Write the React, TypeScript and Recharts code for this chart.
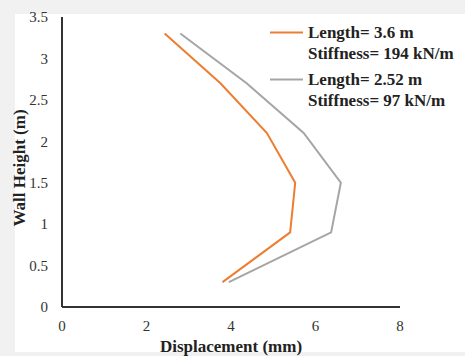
import React from 'react';
import { LineChart, Line, XAxis, YAxis, Legend } from 'recharts';

const heights = [0.3, 0.9, 1.5, 2.1, 2.7, 3.3];
const dispLong = [3.8, 5.4, 5.52, 4.85, 3.75, 2.43];
const dispShort = [3.95, 6.37, 6.6, 5.72, 4.37, 2.8];
const xTicks = [0, 2, 4, 6, 8];
const yTicks = [0, 0.5, 1, 1.5, 2, 2.5, 3, 3.5];
const seriesNames = ['Length= 3.6 m', 'Length= 2.52 m'];
const seriesSub = ['Stiffness= 194 kN/m', 'Stiffness= 97 kN/m'];

const data = heights.map((h, i) => ({ h, a: dispLong[i], b: dispShort[i] }));

const FONT = '"Liberation Serif", "Times New Roman", serif';

const renderLegend = (props: any) => {
  const payload = [...(props.payload || [])].sort(
    (p: any, q: any) => seriesNames.indexOf(p.value) - seriesNames.indexOf(q.value)
  );
  return (
    <div style={{ fontFamily: FONT, fontWeight: 'bold', fontSize: 17, color: '#222', textAlign: 'left' }}>
      {payload.map((p: any, i: number) => (
        <div key={i} style={{ display: 'flex', alignItems: 'flex-start', marginBottom: 5 }}>
          <svg width={40} height={21} style={{ flex: 'none' }}>
            <line x1={2} x2={35} y1={10.5} y2={10.5} stroke={p.color} strokeWidth={2} />
          </svg>
          <div style={{ lineHeight: '21px', whiteSpace: 'nowrap' }}>
            <div>{p.value}</div>
            <div>{seriesSub[seriesNames.indexOf(p.value)]}</div>
          </div>
        </div>
      ))}
    </div>
  );
};

export default function App() {
  return (
    <div style={{ position: 'absolute', left: 0, top: 0, width: 465, height: 356, background: '#f1f1f1' }}>
      <div style={{ position: 'absolute', left: 15, top: 14, width: 450, height: 338, background: '#ffffff' }} />
      <div style={{ position: 'absolute', left: 0, top: 0 }}>
        <LineChart
          width={465}
          height={356}
          data={data}
          layout="vertical"
          margin={{ top: 17, right: 65, bottom: 19, left: 0 }}
        >
          <XAxis
            type="number"
            domain={[0, 8]}
            ticks={xTicks}
            tickLine={false}
            tickSize={0}
            tickMargin={13}
            height={30}
            axisLine={{ stroke: '#333', strokeWidth: 2 }}
            tick={{ fill: '#333', fontSize: 15, fontFamily: FONT }}
            label={{ value: 'Displacement (mm)', position: 'center', dy: 24, style: { fontFamily: FONT, fontWeight: 'bold', fontSize: 17, fill: '#222' } }}
          />
          <YAxis
            type="number"
            dataKey="h"
            domain={[0, 3.5]}
            ticks={yTicks}
            reversed
            tickLine={false}
            tickSize={0}
            tickMargin={14}
            width={62}
            axisLine={{ stroke: '#333', strokeWidth: 2 }}
            tick={{ fill: '#333', fontSize: 15, fontFamily: FONT }}
            label={{ value: 'Wall Height (m)', angle: -90, position: 'center', dx: -12, dy: 6, style: { fontFamily: FONT, fontWeight: 'bold', fontSize: 17, fill: '#222', textAnchor: 'middle' } }}
          />
          <Line dataKey="a" name={seriesNames[0]} stroke="#ED7D31" strokeWidth={2} dot={false} isAnimationActive={false} />
          <Line dataKey="b" name={seriesNames[1]} stroke="#A5A5A5" strokeWidth={2} dot={false} isAnimationActive={false} />
          <Legend
            content={renderLegend}
            layout="horizontal"
            verticalAlign="middle"
            align="center"
            wrapperStyle={{ top: 22, left: 268, width: 197 }}
          />
        </LineChart>
      </div>
    </div>
  );
}
